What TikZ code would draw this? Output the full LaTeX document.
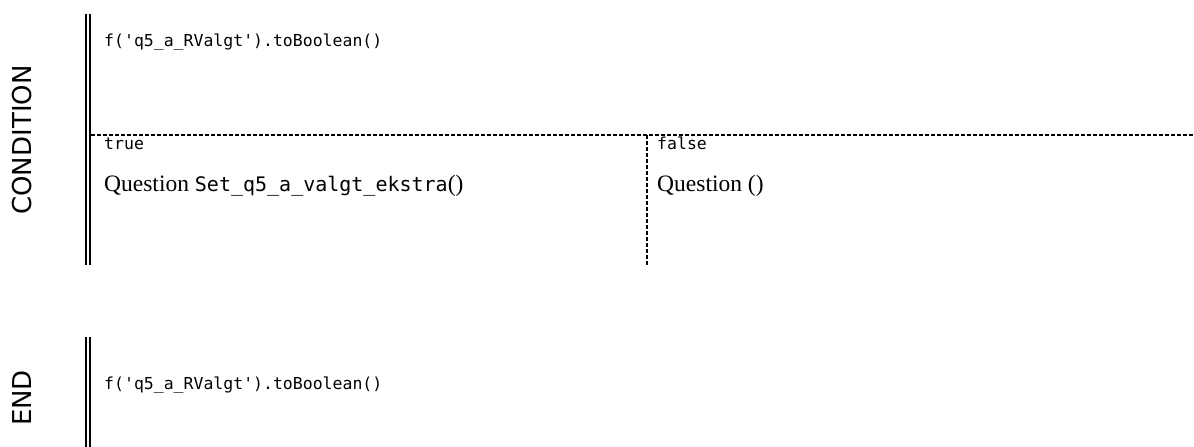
\documentclass[tikz,border=0pt]{standalone}
\usepackage{fontspec}
\setmainfont{Liberation Serif}
\newfontfamily\monof{DejaVu Sans Mono}
\newfontfamily\labf{DejaVu Sans}
\begin{document}
\begin{tikzpicture}[x=1pt,y=-1pt,
  bar/.style={line width=2pt,black},
  dsh/.style={line width=1.4pt,dash pattern=on 4pt off 2pt},
  codetxt/.style={anchor=base west,inner sep=0pt,font=\monof\fontsize{16.5}{18}\selectfont},
  sertxt/.style={anchor=base west,inner sep=0pt,font=\fontsize{23.5}{26}\selectfont},
  sectlab/.style={rotate=90,inner sep=0pt,font=\labf\fontsize{26}{28}\selectfont}]
\useasboundingbox (0,0) rectangle (1194,447);
% CONDITION section
\node[sectlab] (lcond) at (22,140) {CONDITION};
\draw[bar] (86,14) -- (86,265);
\draw[bar] (90,14) -- (90,265);
\node[codetxt] (cond) at (104,46) {f('q5\_a\_RValgt').toBoolean()};
\coordinate (hl) at (91,135);
\coordinate (hr) at (1194,135);
\draw[dsh] (hl) -- (hr);
\coordinate (vt) at (647,135);
\coordinate (vb) at (647,266);
\draw[dsh] (vt) -- (vb);
\node[codetxt] (tlab) at (104,149) {true};
\node[codetxt] (flab) at (657,149) {false};
\node[sertxt] (tq) at (104,191) {Question {\monof\fontsize{20}{22}\selectfont Set\_q5\_a\_valgt\_ekstra}()};
\node[sertxt] (fq) at (657,191) {Question ()};
% END section
\node[sectlab] (lend) at (22,398) {END};
\draw[bar] (86,337) -- (86,447);
\draw[bar] (90,337) -- (90,447);
\node[codetxt] (endc) at (104,389) {f('q5\_a\_RValgt').toBoolean()};
\end{tikzpicture}
\end{document}
